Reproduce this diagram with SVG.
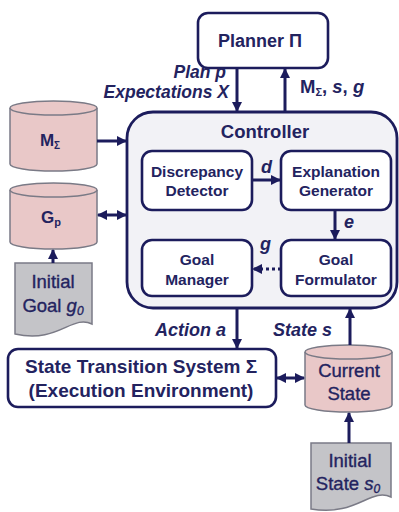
<svg xmlns="http://www.w3.org/2000/svg" width="399" height="512" viewBox="0 0 399 512">
<defs>
<marker id="ah" viewBox="0 0 10 10" refX="9" refY="5" markerWidth="3.4" markerHeight="3.4" orient="auto-start-reverse"><path d="M0,0 L10,5 L0,10 Z" fill="#1c1c5c"/></marker>
<style>
.box{fill:#ffffff;stroke:#1c1c5c;stroke-width:2.6}
.ctrl{fill:#f2f2f6;stroke:#1c1c5c;stroke-width:2.8}
.cyl{fill:#e9c8c8;stroke:#7a7a86;stroke-width:1.5}
.doc{fill:#c4c4c8;stroke:#7a7a86;stroke-width:1.5}
.ln{stroke:#1c1c5c;stroke-width:3;fill:none}
.t{font-family:"Liberation Sans",Arial,sans-serif;font-weight:bold;fill:#23235f;text-anchor:middle}
.tn{font-family:"Liberation Sans",Arial,sans-serif;fill:#23235f;stroke:#23235f;stroke-width:0.35;text-anchor:middle}
.i{font-family:"Liberation Sans",Arial,sans-serif;font-weight:bold;font-style:italic;fill:#23235f}
.ie{text-anchor:end}
.ls{font-family:"Liberation Sans",Arial,sans-serif;font-weight:bold;fill:#23235f;text-anchor:start}
</style>
</defs>
<rect width="399" height="512" fill="#ffffff"/>

<g id="controller">
<rect class="ctrl" x="127" y="112" width="270" height="196" rx="26"/>
<text class="t" x="265" y="138" font-size="18.5">Controller</text>
</g>

<g id="planner">
<rect class="box" x="198" y="13" width="130" height="55" rx="10"/>
<text class="t" x="260" y="47" font-size="18">Planner Π</text>
</g>

<g id="discrepancy">
<rect class="box" x="142" y="151" width="110" height="59" rx="10"/>
<text class="t" x="197" y="177" font-size="15.5">Discrepancy</text>
<text class="t" x="197" y="196" font-size="15.5">Detector</text>
</g>

<g id="explanation">
<rect class="box" x="281" y="151" width="110" height="59" rx="10"/>
<text class="t" x="336" y="177" font-size="15.5">Explanation</text>
<text class="t" x="336" y="196" font-size="15.5">Generator</text>
</g>

<g id="goalmanager">
<rect class="box" x="142" y="240" width="110" height="56" rx="10"/>
<text class="t" x="197" y="265" font-size="15.5">Goal</text>
<text class="t" x="197" y="285" font-size="15.5">Manager</text>
</g>

<g id="goalformulator">
<rect class="box" x="281" y="240" width="110" height="56" rx="10"/>
<text class="t" x="336" y="265" font-size="15.5">Goal</text>
<text class="t" x="336" y="285" font-size="15.5">Formulator</text>
</g>

<g id="msigma">
<path class="cyl" d="M10,108 V164 A43.5,7 0 0 0 97,164 V108"/>
<ellipse class="cyl" cx="53.5" cy="108" rx="43.5" ry="7"/>
<text class="t" x="50" y="146" font-size="17">M<tspan font-size="10" dy="3">Σ</tspan></text>
</g>

<g id="gp">
<path class="cyl" d="M10,190 V242 A43.5,7 0 0 0 97,242 V190"/>
<ellipse class="cyl" cx="53.5" cy="190" rx="43.5" ry="7"/>
<text class="t" x="51" y="223" font-size="17">G<tspan font-size="11" dy="3">p</tspan></text>
</g>

<g id="initialgoal">
<path class="doc" d="M15,263 H92 V324 C72,314 58,344 15,334 Z"/>
<text class="tn" x="53" y="288" font-size="18.5">Initial</text>
<text class="tn" x="53" y="312" font-size="18.5">Goal <tspan font-style="italic">g</tspan><tspan font-style="italic" font-size="12" dy="3">0</tspan></text>
</g>

<g id="sts">
<rect class="box" x="8" y="349" width="268" height="58" rx="10"/>
<text class="t" x="141" y="373" font-size="19">State Transition System Σ</text>
<text class="t" x="141" y="397" font-size="19">(Execution Environment)</text>
</g>

<g id="currentstate">
<path class="cyl" d="M305,352 V405 A43.5,7 0 0 0 392,405 V352"/>
<ellipse class="cyl" cx="348.5" cy="352" rx="43.5" ry="7"/>
<text class="tn" x="349" y="377" font-size="18.5">Current</text>
<text class="tn" x="349" y="400" font-size="18.5">State</text>
</g>

<g id="initialstate">
<path class="doc" d="M311,443 H391 V497 C371,487 356,517 311,509 Z"/>
<text class="tn" x="350" y="467" font-size="18.5">Initial</text>
<text class="tn" x="348" y="490" font-size="18.5">State <tspan font-style="italic">s</tspan><tspan font-style="italic" font-size="12" dy="3">0</tspan></text>
</g>

<g id="connectors">
<line class="ln" x1="237" y1="68" x2="237" y2="111" marker-end="url(#ah)"/>
<line class="ln" x1="285" y1="112" x2="285" y2="69" marker-end="url(#ah)"/>
<line class="ln" x1="97" y1="141" x2="126" y2="141" marker-end="url(#ah)"/>
<line class="ln" x1="98" y1="215" x2="126" y2="215" marker-start="url(#ah)" marker-end="url(#ah)"/>
<line class="ln" x1="53" y1="263" x2="53" y2="250" marker-end="url(#ah)"/>
<line class="ln" x1="252" y1="180" x2="280" y2="180" marker-end="url(#ah)"/>
<line class="ln" x1="335" y1="210" x2="335" y2="239" marker-end="url(#ah)"/>
<line class="ln" x1="281" y1="269" x2="253" y2="269" stroke-dasharray="3,3" marker-end="url(#ah)"/>
<line class="ln" x1="237" y1="308" x2="237" y2="348" marker-end="url(#ah)"/>
<line class="ln" x1="350" y1="345" x2="350" y2="309" marker-end="url(#ah)"/>
<line class="ln" x1="277" y1="378" x2="304" y2="378" marker-start="url(#ah)" marker-end="url(#ah)"/>
<line class="ln" x1="349" y1="443" x2="349" y2="413" marker-end="url(#ah)"/>
</g>

<g id="labels">
<text class="i ie" x="226" y="78" font-size="17.5">Plan p</text>
<text class="i ie" x="229" y="98" font-size="17.5">Expectations X</text>
<text class="ls" x="300" y="93" font-size="18.5">M<tspan font-size="11" dy="3">Σ</tspan><tspan dy="-3">, </tspan><tspan font-style="italic">s</tspan>, <tspan font-style="italic">g</tspan></text>
<text class="i" x="261" y="173" font-size="18">d</text>
<text class="i" x="344" y="228" font-size="18">e</text>
<text class="i" x="260" y="250" font-size="18">g</text>
<text class="i ie" x="226" y="336" font-size="18">Action a</text>
<text class="i" x="273" y="336" font-size="18">State s</text>
</g>
</svg>
